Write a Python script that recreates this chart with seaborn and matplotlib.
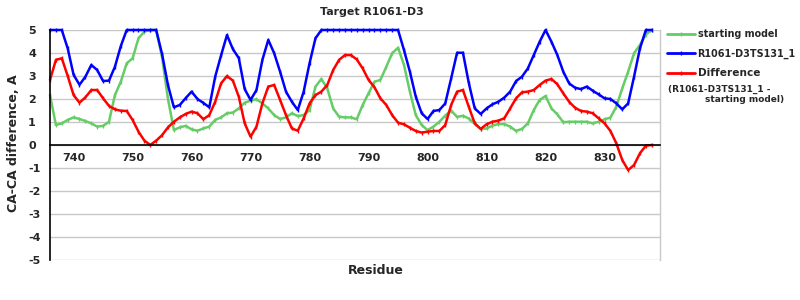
import matplotlib
matplotlib.use("Agg")
import matplotlib.pyplot as plt
import seaborn as sns
import pandas as pd
import numpy as np

residues = list(range(736, 839))

starting_model = [2.17, 0.87, 0.94, 1.09, 1.20, 1.13, 1.04, 0.94, 0.80, 0.83,
                  1.01, 2.17, 2.75, 3.55, 3.77, 4.64, 4.93, 5.00, 5.00, 3.80,
                  2.00, 0.65, 0.77, 0.83, 0.68, 0.62, 0.72, 0.80, 1.09, 1.20,
                  1.38, 1.41, 1.59, 1.84, 1.93, 1.99, 1.81, 1.59, 1.30, 1.13,
                  1.20, 1.38, 1.26, 1.30, 1.52, 2.54, 2.87, 2.46, 1.59, 1.23,
                  1.20, 1.20, 1.12, 1.74, 2.25, 2.75, 2.83, 3.40, 3.99, 4.23,
                  3.48, 2.32, 1.30, 0.87, 0.65, 0.80, 1.01, 1.28, 1.50, 1.22,
                  1.27, 1.15, 0.92, 0.70, 0.72, 0.84, 0.91, 0.91, 0.80, 0.61,
                  0.70, 0.94, 1.52, 1.96, 2.13, 1.59, 1.33, 0.99, 1.01, 1.01,
                  1.01, 1.01, 0.94, 1.01, 1.12, 1.19, 1.67, 2.46, 3.19, 3.99,
                  4.35, 4.80, 5.00]

model_ts131 = [5.00, 5.00, 5.00, 4.20, 3.05, 2.62, 2.97, 3.48, 3.26, 2.78,
               2.80, 3.40, 4.30, 5.00, 5.00, 5.00, 5.00, 5.00, 5.00, 3.95,
               2.60, 1.64, 1.74, 2.04, 2.32, 2.00, 1.83, 1.64, 2.97, 3.90,
               4.78, 4.17, 3.78, 2.43, 1.96, 2.39, 3.70, 4.57, 3.99, 3.19,
               2.32, 1.88, 1.52, 2.32, 3.56, 4.64, 5.00, 5.00, 5.00, 5.00,
               5.00, 5.00, 5.00, 5.00, 5.00, 5.00, 5.00, 5.00, 5.00, 5.00,
               4.13, 3.19, 2.10, 1.38, 1.13, 1.48, 1.52, 1.81, 2.90, 4.01,
               4.01, 2.68, 1.59, 1.35, 1.59, 1.77, 1.88, 2.06, 2.32, 2.78,
               2.97, 3.33, 3.91, 4.49, 5.00, 4.49, 3.91, 3.19, 2.68, 2.49,
               2.43, 2.54, 2.36, 2.20, 2.03, 2.00, 1.81, 1.55, 1.81, 2.97,
               4.20, 5.00, 5.00]

difference = [2.83, 3.70, 3.77, 3.00, 2.17, 1.84, 2.07, 2.39, 2.39, 2.03,
              1.70, 1.55, 1.49, 1.48, 1.09, 0.58, 0.19, 0.00, 0.19, 0.43,
              0.77, 1.01, 1.20, 1.35, 1.45, 1.38, 1.12, 1.30, 1.88, 2.68,
              3.00, 2.80, 2.10, 0.94, 0.36, 0.80, 1.81, 2.54, 2.61, 1.96,
              1.30, 0.72, 0.62, 1.16, 1.81, 2.17, 2.32, 2.61, 3.26, 3.70,
              3.91, 3.91, 3.72, 3.33, 2.83, 2.51, 2.03, 1.74, 1.30, 0.97,
              0.90, 0.75, 0.61, 0.54, 0.58, 0.61, 0.61, 0.87, 1.74, 2.32,
              2.39, 1.65, 0.94, 0.70, 0.90, 1.01, 1.06, 1.16, 1.59, 2.03,
              2.29, 2.32, 2.39, 2.61, 2.80, 2.87, 2.64, 2.25, 1.88, 1.62,
              1.48, 1.45, 1.38, 1.16, 0.94, 0.61, 0.07, -0.65, -1.09, -0.87,
              -0.36, -0.03, 0.00]

series_names = ["starting model", "R1061-D3TS131_1", "Difference"]
series_colors = ["#66cc66", "#0000ff", "#ff0000"]
x_ticks = [740, 750, 760, 770, 780, 790, 800, 810, 820, 830]
y_ticks = [-5, -4, -3, -2, -1, 0, 1, 2, 3, 4, 5]

df = pd.DataFrame({
    "Residue": residues * 3,
    "value": starting_model + model_ts131 + difference,
    "series": [series_names[0]] * len(residues) + [series_names[1]] * len(residues)
              + [series_names[2]] * len(residues),
})

sns.set_theme(style="white")
plt.rcParams['font.family'] = ['DejaVu Sans']
plt.rcParams['font.weight'] = 'bold'

fig = plt.figure(figsize=(8, 3), dpi=100)
ax = fig.add_axes([50 / 800, 1 - 260 / 300, 610 / 800, 230 / 300])

for name, col in zip(series_names, series_colors):
    sub = df[df["series"] == name]
    sns.lineplot(data=sub, x="Residue", y="value", ax=ax, color=col,
                 linewidth=1.8, marker="|", markersize=3.5, markeredgewidth=1.0,
                 markeredgecolor=col, label=name, clip_on=False, legend=False)

ax.set_xlim(736, 839.4)
ax.set_ylim(-5, 5)
ax.set_yticks(y_ticks)
ax.set_xticks(x_ticks)
ax.yaxis.grid(True, color="#c8c8c8", linewidth=1.0)
ax.xaxis.grid(False)
ax.set_axisbelow(True)

ax.spines["top"].set_visible(False)
ax.spines["right"].set_color("#c8c8c8")
ax.spines["right"].set_linewidth(1.0)
ax.spines["left"].set_color("black")
ax.spines["left"].set_linewidth(1.2)
ax.spines["bottom"].set_position(("data", 0))
ax.spines["bottom"].set_color("black")
ax.spines["bottom"].set_linewidth(1.2)

ax.tick_params(axis="x", direction="out", length=4, width=1, color="#c8c8c8",
               labelsize=8, pad=2)
ax.tick_params(axis="y", length=0, labelsize=8, pad=15.8)
ax.set_yticklabels([str(v) for v in y_ticks])
for lab in ax.get_xticklabels() + ax.get_yticklabels():
    lab.set_fontweight("bold")
for lab in ax.get_yticklabels():
    lab.set_horizontalalignment("left")

ax.set_xlabel("")
ax.set_ylabel("")
fig.text(376 / 800, 1 - 270 / 300, "Residue", ha="center", va="center",
         fontsize=9, fontweight="bold")
fig.text(14 / 800, 1 - 143 / 300, "CA-CA difference, A", ha="center", va="center",
         rotation=90, fontsize=9, fontweight="bold")
fig.text(372 / 800, 1 - 12 / 300, "Target R1061-D3", ha="center", va="center",
         fontsize=7.9, fontweight="bold")

handles = [plt.Line2D([], [], color=c, linewidth=2, marker="|", markersize=3.5)
           for c in series_colors]
leg = fig.legend(handles, series_names, loc="upper left",
                 bbox_to_anchor=(665 / 800, 1 - 27 / 300), frameon=False,
                 handlelength=2.9, handletextpad=0.3, labelspacing=1.0,
                 prop={"weight": "bold", "size": 6.9}, borderaxespad=0,
                 borderpad=0.2)
leg.get_texts()[2].set_fontsize(7.6)
fig.text(668 / 800, 1 - 89 / 300, "(R1061-D3TS131_1 -", ha="left", va="center",
         fontsize=6.5, fontweight="bold")
fig.text(705 / 800, 1 - 100 / 300, "starting model)", ha="left", va="center",
         fontsize=6.5, fontweight="bold")

fig.savefig("out.png", dpi=100)
